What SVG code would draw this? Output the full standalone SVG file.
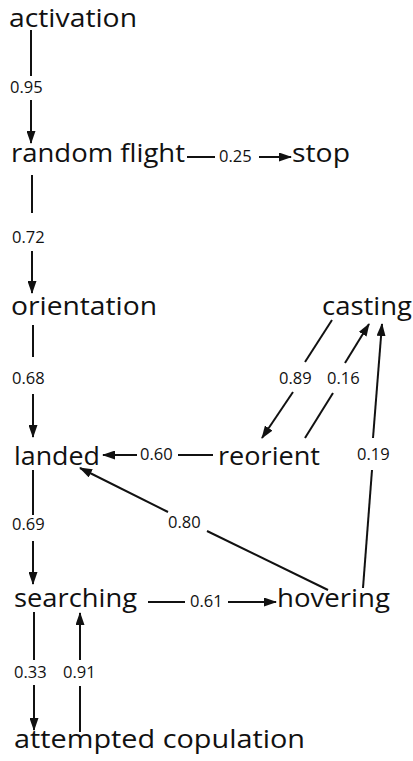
<svg xmlns="http://www.w3.org/2000/svg" width="413" height="761" viewBox="0 0 413 761">
  <style>
    .node { font-family: "Open Sans", "Noto Sans", sans-serif; font-size: 25px; font-weight: 500; fill: #111; }
    .lbl { font-family: "Open Sans", "Noto Sans", sans-serif; font-size: 16.5px; font-weight: 500; fill: #111; }
    .edge { stroke: #111; stroke-width: 2; fill: none; }
    .head { stroke: #111; stroke-width: 2; fill: none; marker-end: url(#arrow); }
  </style>
  <defs>
    <marker id="arrow" markerUnits="userSpaceOnUse" markerWidth="13" markerHeight="9" refX="12" refY="4.5" orient="auto">
      <path d="M0,0 L13,4.5 L0,9 Z" fill="#111"/>
    </marker>
  </defs>
  <rect width="413" height="761" fill="#fff"/>

  <g id="nodes">
    <g id="activation"><text class="node" x="9" y="27" textLength="128" lengthAdjust="spacingAndGlyphs">activation</text></g>
    <g id="random-flight"><text class="node" x="11" y="162" textLength="174" lengthAdjust="spacingAndGlyphs">random flight</text></g>
    <g id="stop"><text class="node" x="292" y="162" textLength="58" lengthAdjust="spacingAndGlyphs">stop</text></g>
    <g id="orientation"><text class="node" x="11" y="315" textLength="146" lengthAdjust="spacingAndGlyphs">orientation</text></g>
    <g id="casting"><text class="node" x="322" y="315" textLength="90" lengthAdjust="spacingAndGlyphs">casting</text></g>
    <g id="landed"><text class="node" x="14" y="465" textLength="86" lengthAdjust="spacingAndGlyphs">landed</text></g>
    <g id="reorient"><text class="node" x="218" y="465" textLength="102" lengthAdjust="spacingAndGlyphs">reorient</text></g>
    <g id="searching"><text class="node" x="14" y="607" textLength="123" lengthAdjust="spacingAndGlyphs">searching</text></g>
    <g id="hovering"><text class="node" x="277" y="607" textLength="113" lengthAdjust="spacingAndGlyphs">hovering</text></g>
    <g id="attempted-copulation"><text class="node" x="14" y="748" textLength="291" lengthAdjust="spacingAndGlyphs">attempted copulation</text></g>
  </g>

  <g id="connectors">
    <!-- activation -> random flight -->
    <line class="edge" x1="31" y1="30" x2="31" y2="76"/>
    <line class="head" x1="31" y1="100" x2="31" y2="143"/>
    <text class="lbl" x="10" y="93">0.95</text>

    <!-- random flight -> stop -->
    <line class="edge" x1="187" y1="157" x2="215" y2="157"/>
    <line class="head" x1="259" y1="157" x2="291" y2="157"/>
    <text class="lbl" x="219" y="162">0.25</text>

    <!-- random flight -> orientation -->
    <line class="edge" x1="32" y1="175" x2="32" y2="213"/>
    <line class="head" x1="32" y1="251" x2="32" y2="293"/>
    <text class="lbl" x="12" y="243">0.72</text>

    <!-- orientation -> landed -->
    <line class="edge" x1="33" y1="325" x2="33" y2="357"/>
    <line class="head" x1="33" y1="394" x2="33" y2="437"/>
    <text class="lbl" x="12" y="384">0.68</text>

    <!-- casting -> reorient -->
    <line class="edge" x1="332" y1="320" x2="305" y2="362"/>
    <line class="head" x1="293" y1="392" x2="262" y2="438"/>
    <text class="lbl" x="279" y="384">0.89</text>

    <!-- reorient -> casting -->
    <line class="edge" x1="305" y1="438" x2="333" y2="393"/>
    <line class="head" x1="345" y1="363" x2="369" y2="324"/>
    <text class="lbl" x="327" y="384">0.16</text>

    <!-- hovering -> casting -->
    <line class="edge" x1="363" y1="588" x2="372" y2="470"/>
    <line class="head" x1="373" y1="438" x2="382" y2="324"/>
    <text class="lbl" x="357" y="460">0.19</text>

    <!-- reorient -> landed -->
    <line class="edge" x1="213" y1="455" x2="178" y2="455"/>
    <line class="head" x1="137" y1="455" x2="103" y2="455"/>
    <text class="lbl" x="140" y="460">0.60</text>

    <!-- hovering -> landed -->
    <line class="edge" x1="328" y1="590" x2="207" y2="531"/>
    <line class="head" x1="168" y1="512" x2="80" y2="468"/>
    <text class="lbl" x="168" y="528">0.80</text>

    <!-- landed -> searching -->
    <line class="edge" x1="33" y1="470" x2="33" y2="515"/>
    <line class="head" x1="33" y1="541" x2="33" y2="584"/>
    <text class="lbl" x="12" y="530">0.69</text>

    <!-- searching -> hovering -->
    <line class="edge" x1="148" y1="602" x2="185" y2="602"/>
    <line class="head" x1="228" y1="602" x2="276" y2="602"/>
    <text class="lbl" x="190" y="607">0.61</text>

    <!-- searching -> attempted copulation -->
    <line class="edge" x1="34" y1="612" x2="34" y2="660"/>
    <line class="head" x1="34" y1="685" x2="34" y2="730"/>
    <text class="lbl" x="14" y="678">0.33</text>

    <!-- attempted copulation -> searching -->
    <line class="edge" x1="80" y1="732" x2="80" y2="686"/>
    <line class="head" x1="80" y1="660" x2="80" y2="613"/>
    <text class="lbl" x="63" y="678">0.91</text>
  </g>
</svg>
